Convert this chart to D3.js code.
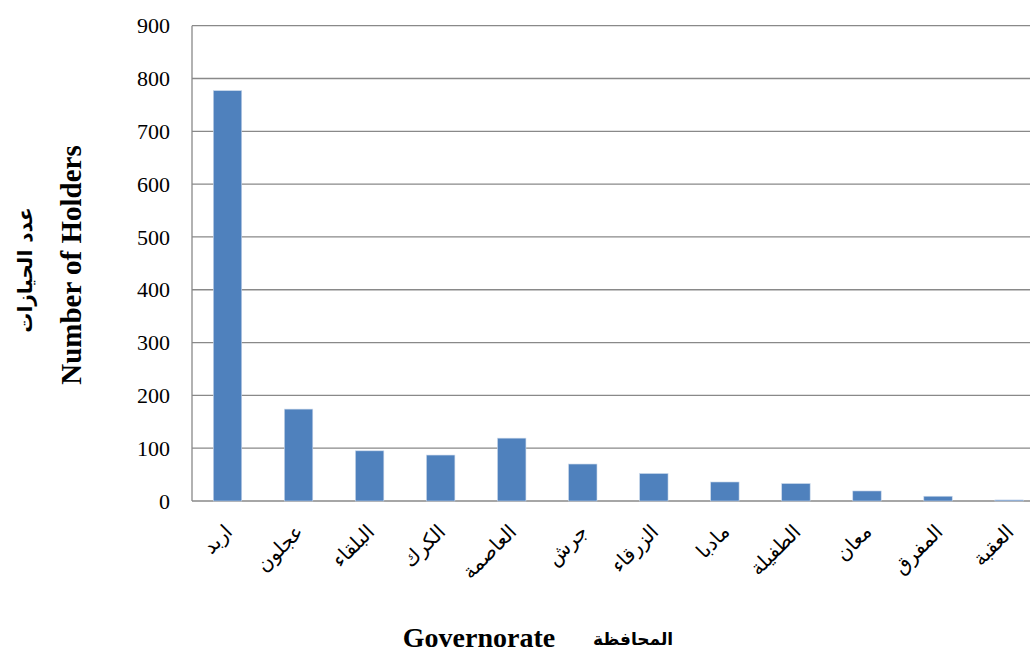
<!DOCTYPE html>
<meta charset="utf-8">
<script src="https://cdn.jsdelivr.net/npm/d3@7"></script>
<style>
  body { margin: 0; background: #fff; }
  text { font-family: "Liberation Serif", "Times New Roman", serif; }
</style>
<body>
<div id="chart"></div>
<script>

// governorates, left to right
var governorates = ["اربد", "عجلون", "البلقاء", "الكرك", "العاصمة", "جرش",
                    "الزرقاء", "مادبا", "الطفيلة", "معان", "المفرق", "العقبة"]
var holders = [777, 174, 95, 87, 119, 70, 52, 36, 33, 19, 9, 2]
var yTicks = [0, 100, 200, 300, 400, 500, 600, 700, 800, 900]

var W = 1030, H = 655
var margin = {top: 25.7, right: -14.6, bottom: 154, left: 192}
var width = W - margin.left - margin.right
var height = H - margin.top - margin.bottom

var svg = d3.select("#chart").append("svg")
  .attr("width", W)
  .attr("height", H)

var g = svg.append("g")
  .attr("transform", "translate(" + margin.left + "," + margin.top + ")")

var x = d3.scaleBand()
  .domain(governorates)
  .range([0, width])
  .paddingInner(0.6)
  .paddingOuter(0.3)

var y = d3.scaleLinear()
  .domain([0, 900])
  .range([height, 0])

// gridlines
g.selectAll(".grid")
  .data(yTicks)
  .enter().append("line")
  .attr("x1", 0)
  .attr("x2", width)
  .attr("y1", function(d) { return y(d) })
  .attr("y2", function(d) { return y(d) })
  .attr("stroke", "#898989")
  .attr("stroke-width", 1.3)

// left axis line + labels
g.append("line")
  .attr("x1", 0).attr("x2", 0)
  .attr("y1", 0).attr("y2", height)
  .attr("stroke", "#898989")
  .attr("stroke-width", 1.3)

g.selectAll(".ylab")
  .data(yTicks)
  .enter().append("text")
  .attr("x", -22)
  .attr("y", function(d) { return y(d) })
  .attr("dy", "0.35em")
  .attr("text-anchor", "end")
  .style("font-size", "22px")
  .text(function(d) { return d })

// bars
g.selectAll(".bar")
  .data(holders)
  .enter().append("rect")
  .attr("x", function(d, i) { return x(governorates[i]) })
  .attr("y", function(d) { return y(d) })
  .attr("width", x.bandwidth())
  .attr("height", function(d) { return height - y(d) })
  .attr("fill", "#4F81BD")
  .attr("stroke", "#c9d7ea")
  .attr("stroke-width", 0.6)

// category labels, rotated
g.selectAll(".xlab")
  .data(governorates)
  .enter().append("text")
  .attr("transform", function(d) {
    var cx = x(d) + x.bandwidth() / 2 + 1
    return "translate(" + cx + "," + (height + 27) + ") rotate(-45)"
  })
  .attr("text-anchor", "end")
  .attr("dy", "0.35em")
  .style("font-family", "'DejaVu Sans', sans-serif")
  .style("font-size", "20px")
  .text(function(d) { return d })

// axis titles
svg.append("text")
  .attr("transform", "translate(81,265) rotate(-90)")
  .attr("text-anchor", "middle")
  .style("font-size", "29px")
  .style("font-weight", "bold")
  .text("Number of Holders")

svg.append("text")
  .attr("transform", "translate(32,270) rotate(-90)")
  .attr("text-anchor", "middle")
  .style("font-family", "'DejaVu Sans', sans-serif")
  .style("font-size", "20px")
  .style("font-weight", "bold")
  .text("عدد الحيازات")

svg.append("text")
  .attr("x", 479)
  .attr("y", 647)
  .attr("text-anchor", "middle")
  .style("font-size", "28px")
  .style("font-weight", "bold")
  .text("Governorate")

svg.append("text")
  .attr("x", 633)
  .attr("y", 645)
  .attr("text-anchor", "middle")
  .style("font-family", "'DejaVu Sans', sans-serif")
  .style("font-size", "17px")
  .style("font-weight", "bold")
  .text("المحافظة")

</script>
</body>
